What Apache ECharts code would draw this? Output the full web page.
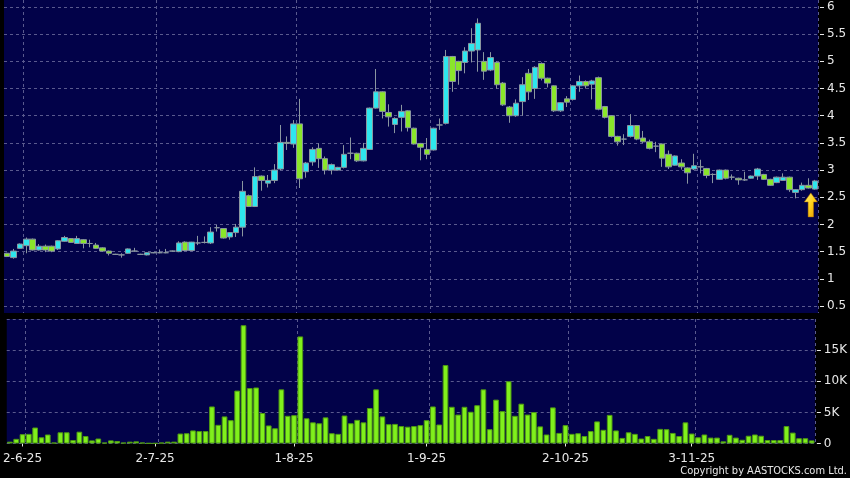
<!DOCTYPE html>
<html>
<head>
<meta charset="utf-8">
<script src="https://cdn.jsdelivr.net/npm/echarts@6/dist/echarts.min.js"></script>
<style>
  html, body { margin: 0; padding: 0; background: #000; }
  #chart { width: 850px; height: 478px; }
</style>
</head>
<body>
<div id="chart"></div>
<script>
// trading days per month (2025)
const may = [29, 30];
const jun = [2, 3, 4, 5, 6, 9, 10, 11, 12, 13, 16, 17, 18, 19, 20, 23, 24, 25, 26, 27, 30];
const jul = [2, 3, 4, 7, 8, 9, 10, 11, 14, 15, 16, 17, 18, 21, 22, 23, 24, 25, 28, 29, 30, 31];
const aug = [1, 4, 5, 6, 7, 8, 11, 12, 13, 14, 15, 18, 19, 20, 21, 22, 25, 26, 27, 28, 29];
const sep = [1, 2, 3, 4, 5, 8, 9, 10, 11, 12, 15, 16, 17, 18, 19, 22, 23, 24, 25, 26, 29, 30];
const oct = [2, 3, 6, 8, 9, 10, 13, 14, 15, 16, 17, 20, 21, 22, 23, 24, 27, 28, 30, 31];
const nov = [3, 4, 5, 6, 7, 10, 11, 12, 13, 14, 17, 18, 19, 20, 21, 24, 25, 26, 27, 28];

const tickLabels = ['2-6-25', '2-7-25', '1-8-25', '1-9-25', '2-10-25', '3-11-25'];
const priceTicks = [0.5, 1, 1.5, 2, 2.5, 3, 3.5, 4, 4.5, 5, 5.5, 6];
const volumeTicks = [0, 5, 10, 15];   // in thousands

const opens = [
  1.47, 1.39, 1.56, 1.61, 1.73, 1.53, 1.60, 1.60, 1.55, 1.69,
  1.74, 1.65, 1.72, 1.65, 1.62, 1.57, 1.51, 1.45, 1.44, 1.47,
  1.51, 1.45, 1.44, 1.48, 1.48, 1.48, 1.51, 1.50, 1.675, 1.52,
  1.66, 1.67, 1.66, 1.94, 1.925, 1.77, 1.85, 1.95, 2.53, 2.33,
  2.89, 2.76, 2.81, 3.02, 3.51, 3.48, 3.85, 2.97, 3.15, 3.40,
  3.21, 3.00, 3.00, 3.05, 3.31, 3.31, 3.17, 3.38, 4.14, 4.44,
  4.06, 3.84, 3.97, 4.09, 3.77, 3.49, 3.38, 3.37, 3.83, 3.86,
  5.09, 5.00, 4.98, 5.19, 5.21, 5.00, 4.84, 4.98, 4.60, 4.16,
  4.00, 4.26, 4.78, 4.50, 4.96, 4.69, 4.55, 4.09, 4.31, 4.30,
  4.55, 4.63, 4.58, 4.70, 4.17, 4.00, 3.62, 3.57, 3.62, 3.82,
  3.59, 3.52, 3.44, 3.48, 3.29, 3.09, 3.13, 3.04, 3.02, 3.06,
  3.03, 2.92, 2.83, 3.00, 2.87, 2.85, 2.82, 2.85, 2.89, 2.92,
  2.83, 2.77, 2.81, 2.87, 2.59, 2.64, 2.72, 2.65
];
const closes = [
  1.41, 1.51, 1.64, 1.73, 1.53, 1.60, 1.53, 1.51, 1.70, 1.76,
  1.67, 1.74, 1.65, 1.65, 1.56, 1.51, 1.47, 1.45, 1.44, 1.55,
  1.51, 1.45, 1.48, 1.48, 1.48, 1.48, 1.51, 1.66, 1.52, 1.675,
  1.66, 1.67, 1.86, 1.94, 1.75, 1.85, 1.95, 2.61, 2.33, 2.88,
  2.81, 2.81, 3.00, 3.51, 3.49, 3.85, 2.84, 3.13, 3.38, 3.21,
  3.00, 3.10, 3.05, 3.29, 3.31, 3.17, 3.40, 4.14, 4.44, 4.08,
  3.98, 3.95, 4.08, 3.78, 3.48, 3.42, 3.29, 3.77, 3.83, 5.09,
  4.63, 4.83, 5.19, 5.33, 5.70, 4.82, 5.07, 4.57, 4.20, 4.00,
  4.23, 4.57, 4.44, 4.89, 4.69, 4.60, 4.09, 4.24, 4.25, 4.55,
  4.63, 4.55, 4.64, 4.12, 3.97, 3.62, 3.52, 3.57, 3.82, 3.57,
  3.52, 3.40, 3.44, 3.22, 3.06, 3.26, 3.06, 2.95, 3.08, 3.06,
  2.90, 2.92, 3.00, 2.85, 2.87, 2.82, 2.82, 2.89, 3.02, 2.83,
  2.72, 2.87, 2.87, 2.64, 2.64, 2.72, 2.67, 2.80
];
const lows = [
  1.40, 1.37, 1.55, 1.47, 1.52, 1.52, 1.49, 1.49, 1.53, 1.68,
  1.66, 1.64, 1.56, 1.58, 1.55, 1.50, 1.43, 1.44, 1.39, 1.46,
  1.50, 1.44, 1.43, 1.47, 1.47, 1.47, 1.50, 1.49, 1.51, 1.51,
  1.62, 1.65, 1.64, 1.87, 1.74, 1.72, 1.77, 1.78, 2.32, 2.32,
  2.62, 2.68, 2.76, 3.00, 3.37, 3.41, 2.67, 2.86, 3.08, 3.04,
  2.92, 2.92, 2.99, 3.03, 3.20, 3.15, 3.16, 3.37, 4.13, 3.95,
  3.80, 3.68, 3.71, 3.71, 3.47, 3.18, 3.20, 3.36, 3.74, 3.84,
  4.44, 4.57, 4.78, 4.98, 4.81, 4.66, 4.82, 4.50, 4.18, 3.87,
  3.98, 4.00, 4.29, 4.31, 4.65, 4.52, 4.07, 4.07, 4.16, 4.28,
  4.44, 4.50, 4.30, 4.10, 3.95, 3.60, 3.45, 3.46, 3.60, 3.55,
  3.50, 3.38, 3.33, 3.06, 3.02, 3.08, 3.01, 2.75, 3.00, 2.94,
  2.85, 2.76, 2.82, 2.83, 2.82, 2.73, 2.80, 2.84, 2.82, 2.82,
  2.71, 2.76, 2.80, 2.60, 2.48, 2.62, 2.66, 2.64
];
const highs = [
  1.48, 1.55, 1.65, 1.76, 1.74, 1.64, 1.63, 1.61, 1.71, 1.79,
  1.75, 1.79, 1.73, 1.72, 1.66, 1.58, 1.52, 1.46, 1.47, 1.56,
  1.57, 1.46, 1.49, 1.49, 1.54, 1.55, 1.52, 1.69, 1.69, 1.68,
  1.79, 1.78, 1.95, 1.99, 1.93, 1.86, 2.01, 2.80, 2.55, 3.05,
  2.90, 2.91, 3.11, 3.83, 3.62, 3.92, 4.31, 3.15, 3.42, 3.49,
  3.25, 3.12, 3.06, 3.46, 3.60, 3.32, 3.50, 4.15, 4.86, 4.45,
  4.21, 3.97, 4.20, 4.10, 3.78, 3.50, 3.59, 3.78, 3.95, 5.21,
  5.10, 5.01, 5.26, 5.61, 5.79, 5.17, 5.17, 5.00, 4.62, 4.18,
  4.30, 4.71, 4.86, 4.91, 4.98, 4.70, 4.56, 4.25, 4.36, 4.56,
  4.74, 4.65, 4.66, 4.72, 4.18, 4.01, 3.63, 3.66, 4.03, 3.83,
  3.72, 3.56, 3.52, 3.49, 3.36, 3.27, 3.20, 3.05, 3.30, 3.19,
  3.04, 2.94, 3.01, 3.01, 2.92, 2.86, 2.97, 2.90, 3.04, 2.93,
  2.84, 2.88, 2.94, 2.88, 2.65, 2.77, 2.85, 2.82
];
// volume, thousands of shares
const volumes = [
  0.3, 0.75, 1.5, 1.55, 2.57, 1.0, 1.45, 0.15, 1.8, 1.8,
  0.55, 1.9, 1.2, 0.5, 0.8, 0.15, 0.5, 0.4, 0.15, 0.3,
  0.35, 0.15, 0.05, 0.05, 0.15, 0.3, 0.3, 1.6, 1.65, 2.1,
  2.0, 2.0, 5.95, 3.0, 4.35, 3.75, 8.5, 19.0, 8.9, 9.0,
  4.9, 2.9, 2.45, 8.7, 4.45, 4.55, 17.2, 4.05, 3.4, 3.25,
  4.2, 1.65, 1.55, 4.5, 3.25, 3.8, 3.4, 5.7, 8.7, 4.35,
  3.1, 3.15, 2.8, 2.7, 2.8, 2.95, 3.75, 5.95, 3.05, 12.6,
  5.9, 4.65, 5.9, 5.1, 6.15, 8.7, 2.3, 7.05, 5.2, 10.0,
  4.45, 6.4, 4.65, 5.05, 2.75, 1.45, 5.8, 1.7, 2.95, 1.55,
  1.65, 1.2, 2.0, 3.55, 2.2, 4.6, 2.1, 0.9, 1.8, 1.55,
  0.8, 1.2, 0.75, 2.35, 2.3, 1.7, 1.2, 3.4, 1.6, 1.0,
  1.45, 0.95, 0.95, 0.35, 1.4, 0.95, 0.6, 1.25, 1.45, 1.25,
  0.55, 0.55, 0.55, 2.8, 1.75, 0.85, 0.85, 0.5
];

const dates = [].concat(
  may.map(d => d + '-5-25'),
  jun.map(d => d + '-6-25'),
  jul.map(d => d + '-7-25'),
  aug.map(d => d + '-8-25'),
  sep.map(d => d + '-9-25'),
  oct.map(d => d + '-10-25'),
  nov.map(d => d + '-11-25')
);
const candles = dates.map((d, i) => [opens[i], closes[i], lows[i], highs[i]]);
// vertical grid lines sit on the right edge of the labelled day
const splitIdx = tickLabels.map(t => dates.indexOf(t) + 1);

const navy = '#020249';
const gridColor = '#5a5a8e';
const textColor = '#e8e8e8';
const font = 'DejaVu Sans';

const chart = echarts.init(document.getElementById('chart'));
chart.setOption({
  animation: false,
  backgroundColor: '#000',
  title: {
    text: 'Copyright by AASTOCKS.com Ltd.',
    right: 3,
    top: 466,
    padding: 0,
    textStyle: { color: textColor, fontSize: 11, fontWeight: 'normal', fontFamily: 'DejaVu Sans Condensed' }
  },
  grid: [
    { left: 4, right: 32, top: 0, height: 313, show: true, backgroundColor: navy, borderWidth: 0 },
    { left: 4, right: 32, top: 7, height: 299, show: false },
    { left: 4, right: 32, top: 319, height: 124.5, show: true, backgroundColor: navy, borderWidth: 0 }
  ],
  xAxis: [
    {
      gridIndex: 0, type: 'category', data: dates,
      axisLine: { show: false }, axisTick: { show: false }, axisLabel: { show: false },
      splitLine: { show: true, interval: (i) => splitIdx.includes(i), lineStyle: { color: gridColor, type: [3, 3] } }
    },
    {
      gridIndex: 1, type: 'category', data: dates,
      axisLine: { show: false }, axisTick: { show: false }, axisLabel: { show: false }, splitLine: { show: false }
    },
    {
      gridIndex: 2, type: 'category', data: dates, offset: 3,
      axisLine: { show: false },
      axisTick: { show: true, alignWithLabel: true, length: 3, interval: (i, v) => tickLabels.includes(v), lineStyle: { color: textColor } },
      axisLabel: { interval: (i, v) => tickLabels.includes(v), color: textColor, fontSize: 12, fontFamily: font, margin: 6 },
      splitLine: { show: true, interval: (i) => splitIdx.includes(i), lineStyle: { color: gridColor, type: [3, 3] } }
    }
  ],
  yAxis: [
    { gridIndex: 0, type: 'value', min: 0, max: 1, show: false, splitLine: { show: false } },
    {
      gridIndex: 1, type: 'value', position: 'right', offset: 2,
      min: priceTicks[0], max: priceTicks[priceTicks.length - 1], interval: 0.5,
      axisLine: { show: false },
      axisTick: { show: true, length: 4, lineStyle: { color: textColor } },
      axisLabel: { color: textColor, fontSize: 12, fontFamily: font, margin: 7 },
      splitLine: { show: true, lineStyle: { color: gridColor, type: [3, 3] } }
    },
    {
      gridIndex: 2, type: 'value', position: 'right', offset: 2,
      min: 0, max: 20, interval: 5,
      axisLine: { show: false },
      axisTick: { show: true, length: 4, lineStyle: { color: textColor } },
      axisLabel: {
        color: textColor, fontSize: 12, fontFamily: font, margin: 7, showMaxLabel: false,
        formatter: v => volumeTicks.includes(v) ? (v === 0 ? '0' : v + 'K') : ''
      },
      splitLine: { show: true, lineStyle: { color: gridColor, type: [3, 3] } }
    }
  ],
  series: [
    {
      name: 'Price',
      type: 'candlestick',
      xAxisIndex: 1, yAxisIndex: 1,
      data: candles,
      barWidth: 6,
      itemStyle: {
        color: '#2ee6ee', color0: '#8ae62a',
        borderColor: '#8a96a0', borderColor0: '#8a96a0', borderWidth: 1
      },
      markPoint: {
        silent: true,
        symbol: 'path://M6,0 L12,9 L8.5,9 L8.5,24 L3.5,24 L3.5,9 L0,9 Z',
        symbolSize: [13, 24],
        symbolOffset: [-4, 0],
        label: { show: false },
        itemStyle: {
          color: { type: 'linear', x: 0, y: 0, x2: 1, y2: 1, colorStops: [
            { offset: 0, color: '#fff27a' }, { offset: 0.5, color: '#ffd21a' }, { offset: 1, color: '#e09000' }
          ] },
          borderColor: '#b07000', borderWidth: 0.5
        },
        data: [{ coord: [dates[dates.length - 1], 2.36] }]
      }
    },
    {
      name: 'Volume',
      type: 'bar',
      xAxisIndex: 2, yAxisIndex: 2,
      data: volumes,
      barCategoryGap: '10%',
      itemStyle: { color: '#80f01c', borderColor: '#4f9a12', borderWidth: 1 }
    }
  ]
});
</script>
</body>
</html>
